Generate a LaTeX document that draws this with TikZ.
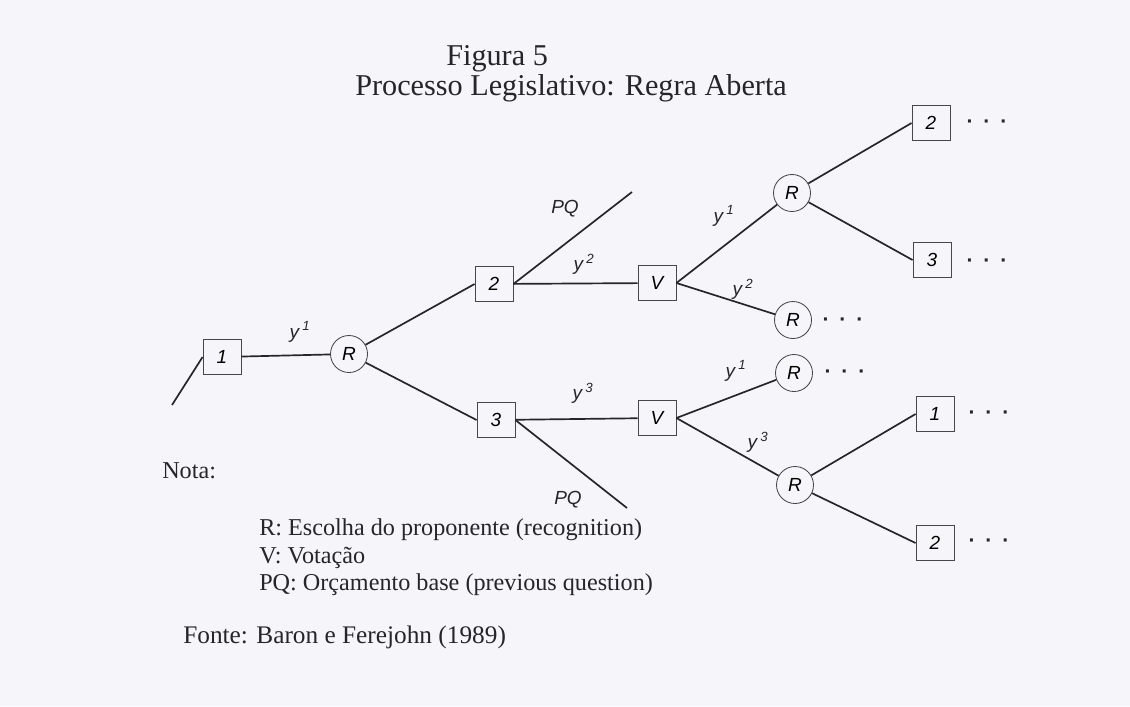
\documentclass[tikz,border=0pt]{standalone}
\usepackage{fontspec}
\setmainfont{Liberation Serif}
\newfontfamily\lblfont{Liberation Sans}
\usetikzlibrary{calc,shapes}

\definecolor{paper}{RGB}{246,245,250}
\definecolor{ink}{RGB}{38,38,42}
\newcommand\ylab[1]{y\,\textsuperscript{#1}}
\newcommand\tdots{·\hspace{7pt}·\hspace{7pt}·}

\begin{document}
\begin{tikzpicture}[x=0.025cm,y=-0.025cm,
    bx/.style={draw=ink!85,line width=0.6pt,minimum width=0.95cm,minimum height=0.875cm,inner sep=0pt,
      font=\lblfont\itshape\fontsize{13.5}{13.5}\selectfont},
    rc/.style={draw=ink!85,circle,line width=0.6pt,minimum size=0.925cm,inner sep=0pt,
      font=\lblfont\itshape\fontsize{13.5}{13.5}\selectfont},
    ln/.style={draw=ink,line width=1.2pt},
    lbl/.style={inner sep=0pt,text=ink,font=\lblfont\itshape\fontsize{13.5}{13.5}\selectfont},
    dts/.style={inner sep=0pt,text=ink,font=\lblfont\bfseries\fontsize{15}{15}\selectfont},
    txt/.style={anchor=base west,inner sep=0pt,text=ink,font=\fontsize{17.2}{20}\selectfont}]
  \fill[paper] (0,0) rectangle (1130,706);
  \useasboundingbox (0,0) rectangle (1130,706);

  % titulo
  \node[txt,font=\fontsize{21.5}{24}\selectfont] (tit1) at (446,65) {Figura 5};
  \node[txt,font=\fontsize{21.5}{24}\selectfont] (tit2) at (355,95) {Processo Legislativo: Regra Aberta};

  % arvore
  \node[bx] (b1) at (222,357) {1};
  \node[rc] (R1) at (349,354) {R};
  \node[bx] (b2) at (494,284) {2};
  \node[bx] (b3) at (496,420) {3};
  \node[bx] (V2) at (657,283) {V};
  \node[bx] (V3) at (657,418) {V};
  \node[rc] (R2) at (792,193) {R};
  \node[rc] (R3) at (793,320) {R};
  \node[rc] (R4) at (794,373) {R};
  \node[rc] (R5) at (795,485) {R};
  \node[bx] (b4) at (931,123) {2};
  \node[bx] (b5) at (932,260) {3};
  \node[bx] (b6) at (935,414) {1};
  \node[bx] (b7) at (935,543) {2};
  \coordinate (s0) at (172,405);
  \coordinate (q2) at (632,192);
  \coordinate (q3) at (627,508);
  \path[ln] (s0) edge (b1.west) (b1) edge (R1) (R1) edge (b2.west) (R1) edge (b3.west)
    (b2.east) edge (q2) (b2) edge (V2) (b3.east) edge (q3) (b3) edge (V3)
    (V2.east) edge (R2) (V2.east) edge (R3) (V3.east) edge (R4) (V3.east) edge (R5)
    (R2) edge (b4.west) (R2) edge (b5.west) (R5) edge (b6.west) (R5) edge (b7.west);

  \node[lbl] (l1) at (300,332) {\ylab{1}};
  \node[lbl] (l2) at (565,209) {PQ};
  \node[lbl] (l3) at (584,264) {\ylab{2}};
  \node[lbl] (l4) at (724,216) {\ylab{1}};
  \node[lbl] (l5) at (743,289) {\ylab{2}};
  \node[lbl] (l6) at (583,393) {\ylab{3}};
  \node[lbl] (l7) at (568,500) {PQ};
  \node[lbl] (l8) at (736,371) {\ylab{1}};
  \node[lbl] (l9) at (758,442) {\ylab{3}};

  \node[dts] (d4) at (987,124) {\tdots};
  \node[dts] (d5) at (987,263) {\tdots};
  \node[dts] (d3) at (843,322) {\tdots};
  \node[dts] (d8) at (845,374) {\tdots};
  \node[dts] (d6) at (989,415) {\tdots};
  \node[dts] (d7) at (989,543) {\tdots};

  % notas
  \node[txt] (nota) at (162,478) {Nota:};
  \node[txt] (n1) at (259,535) {R: Escolha do proponente (recognition)};
  \node[txt] (n2) at (259,563) {V: Votação};
  \node[txt] (n3) at (259,590) {PQ: Orçamento base (previous question)};
  \node[txt,font=\fontsize{18}{20}\selectfont] (fonte) at (183,643) {Fonte: Baron e Ferejohn (1989)};
\end{tikzpicture}
\end{document}
